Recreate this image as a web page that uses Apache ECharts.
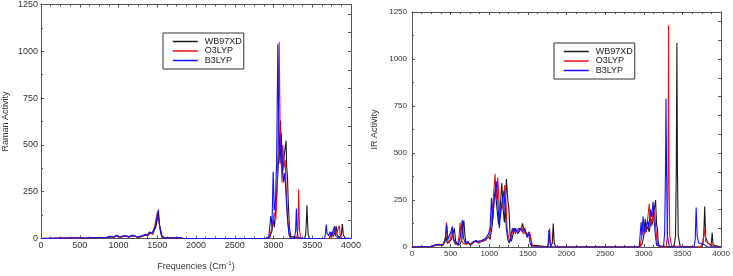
<!DOCTYPE html>
<html><head><meta charset="utf-8">
<script src="https://cdn.jsdelivr.net/npm/echarts@6/dist/echarts.min.js"></script>
<style>html,body{margin:0;padding:0;background:#fff}#c{width:733px;height:276px}</style>
</head><body><div id="c"></div>
<script>
// Tick labels / axis ranges
var xMin = 0, xMax = 4000, xStep = 500;
var yMin = 0, yMax = 1250, yStep = 250;
var seriesNames = ['WB97XD', 'O3LYP', 'B3LYP'];

// Raman activity spectra [frequency, activity]
var ramanWB97XD = [[0,0],[300,2],[600,3],[850,5],[900,10],[930,5],[980,15],[1020,6],[1080,14],[1130,8],[1200,15],[1250,6],[1300,10],[1340,18],[1380,15],[1410,30],[1440,22],[1480,60],[1505,110],[1515,130],[1530,70],[1545,45],[1560,15],[1600,2],[1800,3],[1830,0],[2900,0],[2950,5],[2980,40],[3000,100],[3012,60],[3030,160],[3050,300],[3070,450],[3090,630],[3100,500],[3112,350],[3125,380],[3140,450],[3162,522],[3170,380],[3180,330],[3190,200],[3205,60],[3225,10],[3250,0],[3400,0],[3415,20],[3425,100],[3432,178],[3438,100],[3448,20],[3465,0],[3720,0],[3735,5],[3750,35],[3765,10],[3790,30],[3810,65],[3820,20],[3850,5],[3875,20],[3889,77],[3900,20],[3925,2],[4000,0]];
var ramanO3LYP = [[0,0],[300,2],[600,3],[850,6],[900,10],[940,6],[975,16],[1020,6],[1090,14],[1140,8],[1190,16],[1250,6],[1300,12],[1340,20],[1380,18],[1405,32],[1440,25],[1470,70],[1500,140],[1520,100],[1540,40],[1560,10],[1600,2],[1800,4],[1830,0],[2900,0],[2940,5],[2970,40],[2990,80],[3010,140],[3030,100],[3045,250],[3060,500],[3073,1050],[3085,600],[3100,400],[3110,300],[3120,500],[3135,380],[3150,420],[3165,250],[3180,120],[3200,30],[3230,0],[3300,0],[3315,50],[3325,262],[3335,50],[3350,0],[3720,0],[3735,15],[3745,33],[3760,15],[3775,30],[3790,68],[3805,20],[3830,10],[3850,68],[3862,15],[3880,0],[4000,0]];
var ramanB3LYP = [[0,0],[300,3],[600,4],[850,6],[900,12],[940,8],[970,18],[1020,8],[1080,16],[1130,10],[1185,18],[1240,8],[1300,14],[1340,22],[1370,20],[1400,35],[1430,28],[1470,60],[1500,120],[1513,155],[1530,70],[1545,30],[1560,5],[1600,2],[1800,5],[1830,0],[2900,0],[2940,10],[2965,120],[2980,60],[2996,356],[3010,150],[3025,200],[3040,400],[3056,1037],[3070,500],[3085,400],[3100,560],[3115,380],[3130,300],[3145,350],[3160,250],[3180,100],[3200,20],[3220,0],[3270,0],[3285,40],[3295,160],[3305,40],[3320,0],[3660,0],[3672,30],[3680,75],[3690,30],[3710,15],[3730,36],[3745,10],[3770,20],[3786,65],[3800,15],[3830,5],[3860,0],[4000,0]];

// IR activity spectra [frequency, activity]
var irWB97XD = [[0,0],[250,2],[300,8],[350,12],[400,10],[420,30],[440,60],[455,20],[480,15],[510,40],[530,70],[548,100],[565,30],[590,10],[620,15],[645,40],[662,120],[672,140],[685,60],[700,15],[730,20],[760,10],[800,25],[830,35],[860,20],[900,30],[950,35],[990,55],[1010,40],[1040,120],[1060,250],[1080,300],[1100,200],[1120,120],[1140,200],[1162,340],[1180,200],[1195,130],[1210,250],[1222,362],[1240,250],[1255,200],[1270,60],[1285,30],[1310,70],[1330,100],[1350,80],[1380,100],[1410,90],[1430,125],[1450,90],[1470,100],[1490,60],[1510,80],[1530,60],[1550,10],[1570,0],[1790,0],[1815,20],[1828,125],[1840,20],[1860,0],[2950,0],[2980,20],[3000,60],[3017,150],[3030,80],[3050,110],[3070,80],[3095,150],[3110,120],[3135,200],[3152,250],[3165,120],[3175,100],[3185,30],[3200,5],[3220,0],[3390,0],[3410,60],[3420,400],[3428,1085],[3435,400],[3445,60],[3470,5],[3500,0],[3740,0],[3765,20],[3775,60],[3788,215],[3800,50],[3815,60],[3830,20],[3850,10],[3870,10],[3885,75],[3895,10],[3920,0],[4000,0]];
var irO3LYP = [[0,0],[250,3],[300,10],[350,12],[400,10],[430,30],[445,130],[458,40],[480,20],[505,60],[520,100],[535,40],[560,15],[590,15],[610,60],[622,130],[635,40],[660,20],[690,15],[720,25],[760,10],[800,30],[850,25],[900,30],[950,40],[1000,60],[1020,100],[1040,200],[1060,300],[1075,390],[1090,250],[1110,370],[1125,250],[1140,150],[1160,220],[1180,200],[1200,330],[1215,250],[1230,100],[1250,50],[1270,30],[1290,60],[1310,100],[1340,70],[1360,90],[1390,80],[1420,110],[1440,70],[1470,80],[1500,60],[1520,80],[1540,40],[1560,5],[1580,0],[1755,0],[1770,30],[1780,100],[1790,30],[1810,0],[2950,0],[2975,60],[2990,100],[3010,70],[3030,90],[3050,150],[3070,230],[3085,150],[3100,110],[3120,200],[3140,180],[3155,100],[3170,30],[3190,0],[3290,0],[3305,60],[3314,400],[3320,1180],[3326,400],[3335,60],[3360,5],[3380,0],[3730,0],[3760,20],[3780,30],[3790,100],[3800,30],[3820,40],[3840,20],[3855,30],[3870,5],[3900,0],[4000,0]];
var irB3LYP = [[0,0],[250,3],[300,12],[350,14],[400,12],[430,40],[450,120],[465,40],[490,30],[510,90],[520,110],[535,50],[560,20],[600,15],[630,60],[650,145],[665,50],[690,20],[720,30],[750,15],[800,30],[850,30],[900,35],[950,45],[990,70],[1010,100],[1028,260],[1045,150],[1065,250],[1090,350],[1110,250],[1130,100],[1150,200],[1170,250],[1190,300],[1205,200],[1220,100],[1240,40],[1260,20],[1280,60],[1300,100],[1320,80],[1340,100],[1370,70],[1400,100],[1430,80],[1460,100],[1490,50],[1510,70],[1530,20],[1550,0],[1760,0],[1772,90],[1785,20],[1800,0],[2940,0],[2955,80],[2965,132],[2975,60],[2990,162],[3005,80],[3030,110],[3050,140],[3065,100],[3085,200],[3100,160],[3120,241],[3135,130],[3150,60],[3165,10],[3180,0],[3255,0],[3270,80],[3280,400],[3287,790],[3294,400],[3305,60],[3330,0],[3650,0],[3665,40],[3677,210],[3690,60],[3710,20],[3730,30],[3750,20],[3770,30],[3790,10],[3820,0],[4000,0]];

var colors = ['#1a1a1a', '#ee1111', '#1010ff'];
var FONT = 'Liberation Sans, Arial, sans-serif';
var plain = function (v) { return String(v); };

function xAx(gi, pos, labels, fs, name) {
  var o = {
    type: 'value', gridIndex: gi, position: pos, min: xMin, max: xMax, interval: xStep,
    axisLine: {show: true, onZero: false, lineStyle: {color: '#555', width: 1}},
    axisTick: {show: true, inside: true, length: 3, lineStyle: {color: '#555'}},
    minorTick: {show: true, splitNumber: 4, length: 2, lineStyle: {color: '#555'}},
    splitLine: {show: false},
    axisLabel: {show: labels, color: '#333', fontSize: fs, fontFamily: FONT, margin: 3, formatter: plain}
  };
  if (name) {
    o.name = name; o.nameLocation = 'middle'; o.nameGap = 22;
    o.nameTextStyle = {color: '#333', fontFamily: FONT, rich: {a: {fontSize: 9, color: '#333', fontFamily: FONT}, s: {fontSize: 6, color: '#333', fontFamily: FONT, padding: [0, 0, 6, 0]}}};
  }
  return o;
}
function yAx(gi, pos, labels, fs, interval, name, gap, margin) {
  var o = {
    type: 'value', gridIndex: gi, position: pos, min: yMin, max: yMax, interval: interval,
    axisLine: {show: true, onZero: false, lineStyle: {color: '#555', width: 1}},
    axisTick: {show: true, inside: true, length: 3, lineStyle: {color: '#555'}},
    minorTick: {show: pos === 'left', splitNumber: 2, length: 2, lineStyle: {color: '#555'}},
    splitLine: {show: false},
    axisLabel: {show: labels, color: '#333', fontSize: fs, fontFamily: FONT, margin: margin, formatter: plain}
  };
  if (name) {
    o.name = name; o.nameLocation = 'middle'; o.nameGap = gap;
    o.nameTextStyle = {color: '#333', fontSize: 9, fontFamily: FONT};
  }
  return o;
}
function ser(name, xi, yi, data, ci) {
  return {type: 'line', name: name, xAxisIndex: xi, yAxisIndex: yi, data: data, symbol: 'none',
    lineStyle: {color: colors[ci], width: 1.1}, itemStyle: {color: colors[ci]}, animation: false, z: 2 + ci};
}
function leg(left, top) {
  return {data: seriesNames, orient: 'vertical', left: left, top: top, itemWidth: 25, itemHeight: 9, itemGap: 0.5,
    padding: [4, 2, 4, 9], borderColor: '#333', borderWidth: 1, backgroundColor: '#fff',
    itemStyle: {color: 'rgba(0,0,0,0)', borderWidth: 0, opacity: 0},
    lineStyle: {width: 1.5},
    textStyle: {fontSize: 9, color: '#222', fontFamily: FONT, padding: [0, 0, 0, 2]}, selectedMode: false};
}

var chart = echarts.init(document.getElementById('c'), null, {renderer: 'canvas'});
chart.setOption({
  backgroundColor: '#fff',
  animation: false,
  grid: [
    {left: 39, top: 4, width: 312, height: 239, show: false},
    {left: 412, top: 12, width: 312, height: 235, show: false}
  ],
  legend: [leg(163, 33), leg(554, 43)],
  xAxis: [
    xAx(0, 'bottom', true, 9, '{a|Frequencies (Cm}{s|-1}{a|)}'),
    xAx(0, 'top', false, 9),
    xAx(1, 'bottom', true, 8),
    xAx(1, 'top', false, 8)
  ],
  yAxis: [
    yAx(0, 'left', true, 9, yStep, 'Raman Activity', 31, 3),
    yAx(0, 'right', false, 9, 100),
    yAx(1, 'left', true, 8, yStep, 'IR Activity', 33, 5),
    yAx(1, 'right', false, 8, 100)
  ],
  series: [
    ser(seriesNames[0], 0, 0, ramanWB97XD, 0),
    ser(seriesNames[1], 0, 0, ramanO3LYP, 1),
    ser(seriesNames[2], 0, 0, ramanB3LYP, 2),
    ser(seriesNames[0], 2, 2, irWB97XD, 0),
    ser(seriesNames[1], 2, 2, irO3LYP, 1),
    ser(seriesNames[2], 2, 2, irB3LYP, 2)
  ]
});
</script>
</body></html>
